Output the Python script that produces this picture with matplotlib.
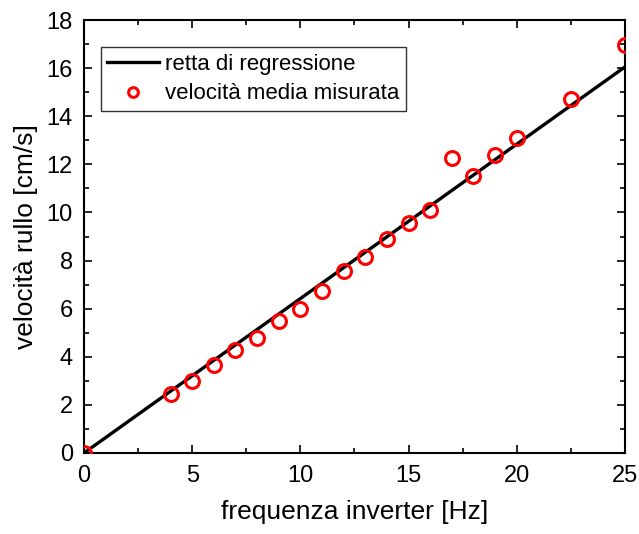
import matplotlib
matplotlib.use("Agg")
import matplotlib.pyplot as plt
import numpy as np
from matplotlib.ticker import MultipleLocator

plt.rcParams["font.family"] = ["Liberation Sans", "DejaVu Sans"]

# measured mean roller speed vs inverter frequency
freq = [0, 4, 5, 6, 7, 8, 9, 10, 11, 12, 13, 14, 15, 16, 17, 18, 19, 20, 22.5, 25]
speed = [0, 2.45, 3.0, 3.65, 4.3, 4.8, 5.5, 6.0, 6.75, 7.55, 8.15, 8.9,
         9.55, 10.1, 12.25, 11.5, 12.4, 13.1, 14.7, 16.95]

# regression line (through origin)
slope = 0.642
fit_x = np.array([0, 25])
fit_y = slope * fit_x

fig = plt.figure(figsize=(6.39, 5.34), dpi=100)
ax = fig.add_axes([0.1315, 0.1517, 0.8465, 0.8108])

ax.plot(fit_x, fit_y, color="black", lw=2.4, label="retta di regressione", zorder=3)
ax.plot(freq, speed, "o", mfc="none", mec="red", mew=2.2, ms=10,
        label="velocità media misurata", zorder=4)

ax.set_xlim(0, 25)
ax.set_ylim(0, 18)
ax.xaxis.set_major_locator(MultipleLocator(5))
ax.xaxis.set_minor_locator(MultipleLocator(2.5))
ax.yaxis.set_major_locator(MultipleLocator(2))
ax.yaxis.set_minor_locator(MultipleLocator(1))
ax.tick_params(which="both", direction="in", top=True, right=True, labelsize=17, width=1.2)
ax.tick_params(axis="x", which="major", pad=9)
ax.tick_params(axis="y", which="major", pad=8)
ax.tick_params(which="major", length=6)
ax.tick_params(which="minor", length=3.5)
for s in ax.spines.values():
    s.set_linewidth(1.5)

ax.set_xlabel("frequenza inverter [Hz]", fontsize=19, labelpad=9)
ax.set_ylabel("velocità rullo [cm/s]", fontsize=19, labelpad=6)

leg = ax.legend(loc="upper left", bbox_to_anchor=(0.031, 0.938), fontsize=16,
                frameon=True, fancybox=False, edgecolor="black", borderpad=0.3,
                handlelength=2.3, handletextpad=0.3, labelspacing=0.4,
                borderaxespad=0, markerscale=0.7)
leg.get_frame().set_linewidth(1.0)

fig.savefig("out.png", dpi=100)
